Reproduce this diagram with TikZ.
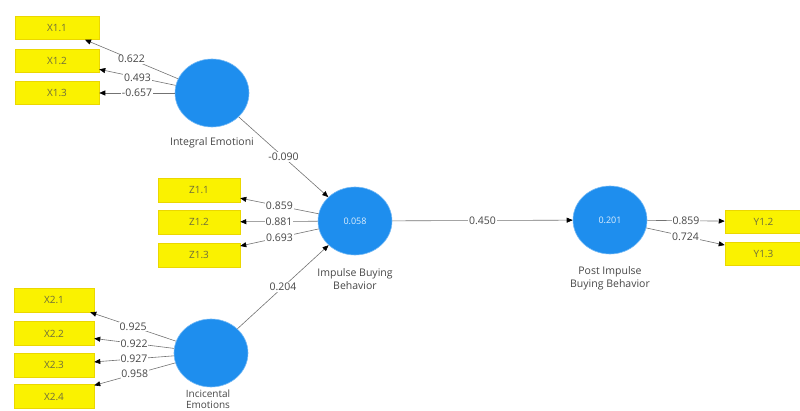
\documentclass[tikz,border=0pt]{standalone}
\usepackage{fontspec}
\setmainfont{Open Sans}
\usetikzlibrary{shapes.geometric,arrows.meta}
\definecolor{lvblue}{RGB}{30,142,238}
\definecolor{indyellow}{RGB}{250,242,0}
\definecolor{indedge}{RGB}{235,215,0}
\definecolor{txtgray}{RGB}{70,70,70}
\definecolor{boxtxt}{RGB}{110,110,60}
\definecolor{linegray}{RGB}{115,115,115}
\tikzset{
  latent/.style={ellipse,fill=lvblue,draw=lvblue!60!white,line width=0.6pt,minimum width=74pt,minimum height=68pt,inner sep=0pt,text=white!85!lvblue,font=\fontsize{9}{10}\selectfont},
  indbox/.style={rectangle,fill=indyellow,draw=indedge,line width=0.5pt,minimum height=23pt,inner sep=0pt,text=boxtxt,font=\fontsize{10}{11}\selectfont},
  lvlabel/.style={text=txtgray,font=\fontsize{10.5}{13}\selectfont,align=center,inner sep=0pt},
  path/.style={draw=linegray,line width=0.6pt,-{Triangle[length=6pt,width=5pt,color=black]}},
  coef/.style={fill=white,inner sep=0.8pt,text=txtgray,font=\fontsize{10.5}{11}\selectfont}
}
\begin{document}
\begin{tikzpicture}[x=1pt,y=-1pt]
\useasboundingbox (0,0) rectangle (800,411);
% latent variables
\node[latent] (ie) at (212,93) {};
\node[latent] (ib) at (355,221) {0.058};
\node[latent] (pb) at (610,220) {0.201};
\node[latent] (ic) at (211,353) {};
% latent labels
\node[lvlabel] (lie) at (212,143) {Integral Emotioni};
\node[lvlabel] (lib) at (355,279) {Impulse Buying\\Behavior};
\node[lvlabel] (lpb) at (610,278) {Post Impulse\\Buying Behavior};
\node[lvlabel,font=\fontsize{10}{11}\selectfont] (lic) at (208,399.5) {Incicental\\Emotions};
% indicators
\node[indbox,minimum width=84pt] (x11) at (57,28) {X1.1};
\node[indbox,minimum width=84pt] (x12) at (57,60.5) {X1.2};
\node[indbox,minimum width=84pt] (x13) at (57,93) {X1.3};
\node[indbox,minimum width=82pt,minimum height=24pt] (z11) at (199,190) {Z1.1};
\node[indbox,minimum width=82pt,minimum height=24pt] (z12) at (199,222) {Z1.2};
\node[indbox,minimum width=82pt,minimum height=24pt] (z13) at (199,255) {Z1.3};
\node[indbox,minimum width=80pt,minimum height=24pt] (x21) at (54,300) {X2.1};
\node[indbox,minimum width=80pt,minimum height=24pt] (x22) at (54,333.5) {X2.2};
\node[indbox,minimum width=80pt,minimum height=24pt] (x23) at (54,365) {X2.3};
\node[indbox,minimum width=80pt,minimum height=24pt] (x24) at (54,396.5) {X2.4};
\node[indbox,minimum width=77pt] (y12) at (763.5,221.5) {Y1.2};
\node[indbox,minimum width=77pt] (y13) at (763.5,253.5) {Y1.3};
% outer loadings
\draw[path] (ie) -- node[coef] {0.622} (x11);
\draw[path] (ie) -- node[coef] {0.493} (x12);
\draw[path] (ie) -- node[coef] {-0.657} (x13);
\draw[path] (ib) -- node[coef] {0.859} (z11);
\draw[path] (ib) -- node[coef] {0.881} (z12);
\draw[path] (ib) -- node[coef] {0.693} (z13);
\draw[path] (ic) -- node[coef] {0.925} (x21);
\draw[path] (ic) -- node[coef] {0.922} (x22);
\draw[path] (ic) -- node[coef] {0.927} (x23);
\draw[path] (ic) -- node[coef] {0.958} (x24);
\draw[path] (pb) -- node[coef] {0.859} (y12);
\draw[path] (pb) -- node[coef] {0.724} (y13);
% structural paths
\draw[path] (ie) -- node[coef] {-0.090} (ib);
\draw[path] (ic) -- node[coef] {0.204} (ib);
\draw[path] (ib) -- node[coef] {0.450} (pb);
\end{tikzpicture}
\end{document}
